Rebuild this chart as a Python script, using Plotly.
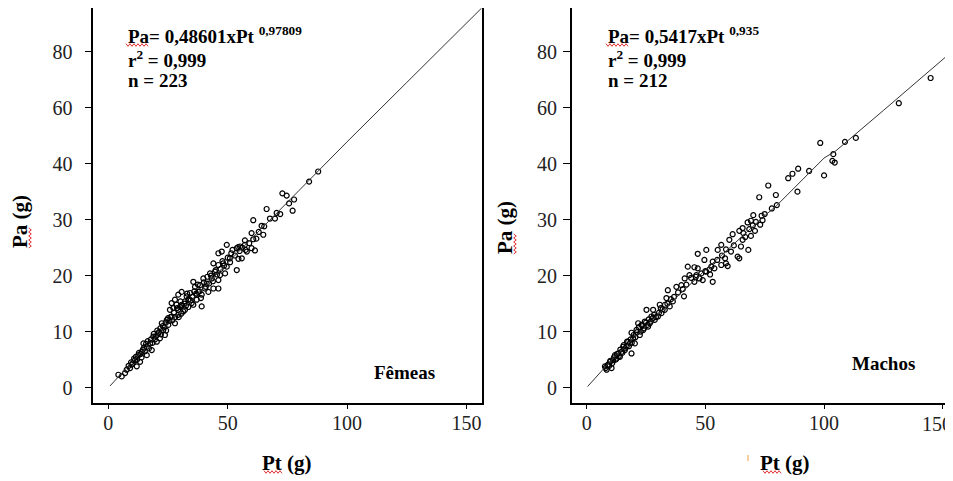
import plotly.graph_objects as go

# page body has an 8px margin: figure is drawn at (8, 8)
OFF = 8
W, H = 953 - OFF, 481 - OFF

# ---------------- data ----------------
fem_pt = [87.9, 84.1, 72.9, 74.7, 77.8, 75.7, 77.2, 66.3, 67.7, 69.8, 60.7, 64.2, 65.3, 64.9, 60.0,
          60.7, 57.2, 49.6, 54.4, 60.0, 61.4, 52.0, 55.0, 58.0, 57.2, 55.2, 53.8, 47.5, 46.1, 55.9,
          50.9, 48.1, 46.1, 44.0, 49.6, 53.8, 44.7, 42.6, 43.3, 46.8, 48.9, 46.1, 39.8, 41.2, 38.4,
          40.5, 35.6, 36.3, 44.0, 46.1, 41.9, 37.7, 39.1, 34.2, 32.8, 30.7, 29.3, 32.1, 27.9, 26.5,
          28.6, 30.0, 27.2, 25.8, 29.3, 31.4, 33.5, 34.9, 37.0, 35.6, 39.1, 37.0, 33.5, 30.7, 32.1,
          29.3, 26.5, 24.5, 22.4, 25.1, 27.9, 23.0, 20.9, 18.8, 21.6, 23.7, 20.3, 17.5, 16.1, 14.7,
          18.2, 14.0, 12.6, 16.1, 11.2, 13.3, 9.8, 9.1, 11.9, 7.7, 7.0, 5.6, 4.2,
          8.5, 9.5, 10.2, 10.8, 11.5, 12.0, 12.8, 13.5, 13.9, 14.5, 15.0, 15.3, 15.8, 16.5, 17.0,
          17.8, 18.5, 19.0, 19.5, 20.0, 20.5, 21.2, 21.8, 22.0, 22.8, 23.5, 24.0, 24.2, 25.0, 25.5,
          26.0, 26.8, 27.5, 28.0, 28.8, 29.5, 30.2, 30.5, 31.0, 31.8, 32.5, 33.0, 33.8, 34.5, 35.2,
          36.0, 36.8, 37.5, 38.2, 38.8, 40.0, 40.8, 41.5, 42.2, 43.0, 43.8, 45.0, 45.5, 47.0, 47.8,
          48.5, 50.0, 51.0, 51.5, 53.0, 54.5, 56.0, 57.5, 59.0, 62.0, 63.0, 70.5, 72.0]
fem_pa = [38.6, 36.8, 34.7, 34.3, 33.6, 32.9, 31.6, 31.9, 30.2, 30.2, 29.9, 28.9, 28.8, 27.3, 27.6,
          26.5, 26.3, 25.5, 25.1, 24.9, 24.5, 24.6, 24.4, 24.3, 25.5, 25.2, 24.9, 24.3, 24.0, 23.1,
          23.1, 22.2, 21.9, 22.2, 21.6, 21.0, 20.7, 20.4, 19.5, 20.1, 20.4, 19.2, 19.5, 18.6, 18.3,
          17.7, 18.9, 18.0, 17.7, 17.7, 17.1, 17.1, 16.6, 16.9, 16.3, 17.1, 16.6, 15.4, 15.7, 15.1,
          14.8, 14.4, 14.2, 13.9, 13.9, 13.6, 14.4, 15.1, 15.7, 14.8, 14.5, 16.6, 15.7, 14.8, 13.9,
          13.0, 12.7, 12.1, 11.5, 11.2, 11.5, 10.3, 9.7, 9.1, 8.8, 9.4, 8.2, 7.9, 7.3, 7.9,
          6.7, 6.4, 5.8, 5.8, 4.9, 4.6, 4.1, 3.5, 3.8, 3.2, 2.6, 2.0, 2.3,
          3.9, 4.5, 4.3, 5.2, 5.5, 5.0, 6.2, 6.0, 5.4, 6.8, 7.2, 6.5, 7.8, 8.3, 7.0,
          8.6, 8.0, 9.6, 8.6, 9.2, 10.2, 9.9, 10.6, 9.5, 11.0, 10.8, 11.6, 10.2, 12.4, 11.9,
          12.6, 12.0, 13.4, 12.6, 14.2, 12.6, 15.4, 13.2, 14.6, 15.0, 14.6, 16.8, 15.8, 15.6, 16.2,
          17.2, 16.8, 18.4, 17.2, 16.0, 18.8, 18.0, 19.8, 18.6, 20.0, 19.0, 21.0, 20.2, 21.2, 22.6,
          21.8, 23.2, 22.4, 24.0, 23.6, 23.0, 25.0, 24.6, 25.8, 26.6, 27.8, 31.2, 31.0]

mac_pt = [144.9, 131.5, 113.4, 108.8, 98.4, 103.9, 103.5, 104.5, 100.0, 93.7, 89.1, 86.7, 84.9, 88.8,
          76.5, 79.7, 80.1, 72.7, 70.2, 73.7, 69.2, 71.3, 73.1, 74.1, 70.9, 68.5, 69.2, 66.8, 67.8,
          65.7, 65.7, 64.3, 61.5, 60.1, 65.0, 68.1, 63.6, 64.3, 60.8, 58.7, 58.3, 56.7, 55.2, 53.1,
          52.5, 53.8, 56.7, 58.7, 59.4, 50.4, 46.8, 49.6, 51.7, 50.4, 48.3, 46.8, 45.4, 42.6, 46.2,
          47.5, 48.9, 53.1, 45.4, 43.3, 41.3, 39.9, 37.8, 41.0, 34.2, 33.6, 36.3, 35.0, 32.9, 30.8,
          28.0, 25.2, 31.5, 30.0, 28.7, 26.6, 27.3, 24.5, 23.1, 21.7, 25.9, 23.8, 21.0, 18.9, 22.4,
          19.6, 17.5, 16.8, 18.2, 16.1, 14.7, 13.3, 11.9, 12.6, 11.2, 9.8, 9.1, 7.7, 8.4, 10.5,
          14.0, 15.4, 20.3, 18.9,
          8.0, 8.8, 9.5, 10.0, 10.8, 11.5, 12.2, 12.8, 13.5, 14.2, 15.0, 15.6, 16.2, 17.0, 17.8,
          18.5, 19.0, 19.8, 20.5, 21.2, 22.0, 22.8, 23.5, 24.2, 25.0, 25.6, 26.2, 27.0, 27.8, 28.4,
          29.2, 30.5, 31.2, 32.0, 33.0, 34.0, 35.5, 36.8, 38.5, 40.5, 42.0, 44.0, 46.0, 50.0, 52.0,
          55.0, 57.0, 62.0, 66.0, 70.0, 75.0, 78.0]
mac_pa = [55.3, 50.8, 44.6, 43.9, 43.7, 41.7, 40.5, 40.2, 37.9, 38.7, 39.1, 38.2, 37.4, 35.0,
          36.1, 34.4, 32.6, 34.0, 30.8, 30.7, 29.8, 29.6, 29.1, 29.9, 28.0, 28.3, 27.1, 26.9, 29.5,
          28.5, 26.4, 28.0, 27.4, 26.4, 25.2, 24.6, 23.4, 23.1, 24.3, 24.7, 23.1, 25.5, 24.6, 22.5,
          21.6, 21.3, 21.9, 22.2, 21.7, 24.6, 23.9, 22.8, 21.1, 20.7, 20.4, 21.3, 21.5, 21.6, 20.1,
          19.5, 19.2, 18.9, 18.9, 20.1, 19.5, 18.3, 18.0, 16.3, 17.4, 16.0, 15.4, 14.5, 13.9, 14.8,
          13.9, 13.9, 13.3, 12.7, 12.1, 11.5, 12.7, 11.8, 11.2, 11.5, 10.9, 10.3, 10.3, 9.8, 9.4,
          8.8, 8.2, 7.3, 7.9, 6.7, 6.4, 6.1, 5.8, 5.2, 4.9, 4.6, 4.1, 3.8, 3.2, 3.5,
          5.5, 7.3, 7.9, 6.1,
          3.5, 4.0, 3.9, 4.8, 4.4, 5.4, 5.0, 6.0, 5.6, 6.8, 6.2, 7.6, 7.0, 8.2, 7.4,
          8.6, 8.0, 9.4, 9.0, 9.9, 10.8, 10.0, 11.0, 10.6, 11.6, 11.2, 12.2, 11.8, 12.4, 13.0,
          12.6, 13.4, 14.2, 14.0, 14.8, 15.0, 15.8, 16.2, 17.0, 17.6, 18.4, 19.6, 19.8, 20.8, 20.2,
          22.8, 23.6, 25.4, 27.6, 29.0, 31.0, 32.0]

# fitted curves
fem_fit_pt = [0.7, 10, 25, 50, 75, 100, 125, 156.4]
fem_fit_pa = [0.3, 4.6, 11.3, 22.3, 33.1, 43.9, 54.5, 67.8]
mac_fit_pt = [0.4, 10, 25, 50, 75, 80, 100, 105, 125, 153]
mac_fit_pa = [0.2, 4.7, 11.0, 21.0, 30.7, 32.5, 41.0, 42.3, 49.5, 59.7]

x_tickvals = [0, 50, 100, 150]
x_ticktext = ["0", "50", "100", "150"]
y_tickvals = [0, 10, 20, 30, 40, 50, 60]
y_ticktext = ["0", "10", "20", "30", "40", "60", "80"]

# ---------------- figure ----------------
def px(x):
    return (x - OFF) / W

def py(y):
    return 1 - (y - OFF) / H

SERIF = "Liberation Serif"
marker = dict(symbol="circle-open", size=5, color="black", line=dict(width=1.2, color="black"))

fig = go.Figure()
fig.add_trace(go.Scatter(x=fem_pt, y=fem_pa, mode="markers", marker=marker,
                         xaxis="x", yaxis="y", showlegend=False, hoverinfo="skip"))
fig.add_trace(go.Scatter(x=fem_fit_pt, y=fem_fit_pa, mode="lines",
                         line=dict(color="#333333", width=1), xaxis="x", yaxis="y",
                         showlegend=False, hoverinfo="skip"))
fig.add_trace(go.Scatter(x=mac_pt, y=mac_pa, mode="markers", marker=marker,
                         xaxis="x2", yaxis="y2", showlegend=False, hoverinfo="skip"))
fig.add_trace(go.Scatter(x=mac_fit_pt, y=mac_fit_pa, mode="lines",
                         line=dict(color="#333333", width=1), xaxis="x2", yaxis="y2",
                         showlegend=False, hoverinfo="skip"))

TICKFONT = dict(family=SERIF, size=20, color="#222222")
axis_common = dict(showline=True, linecolor="black", linewidth=1.5, mirror=True,
                   ticks="outside", tickcolor="black", tickwidth=1,
                   showgrid=False, zeroline=False, automargin=False,
                   tickfont=TICKFONT)

# right panel: the last x label sits at the page edge, drawn as right-aligned text
x2_ticktext = x_ticktext[:-1] + [""]

ydom = [py(403.3), py(8)]
fig.update_layout(
    template="none",
    width=W, height=H, margin=dict(l=0, r=0, t=0, b=0, autoexpand=False),
    paper_bgcolor="white", plot_bgcolor="white",
    xaxis=dict(axis_common, domain=[px(93.3), px(481.7)], range=[-6.3, 156.4],
               tickvals=x_tickvals, ticktext=x_ticktext, ticklen=4, ticklabelstandoff=-3,
               anchor="y"),
    yaxis=dict(axis_common, domain=ydom, range=[-2.8, 67.8],
               tickvals=y_tickvals, ticktext=y_ticktext, ticklen=7, ticklabelstandoff=8,
               anchor="x"),
    xaxis2=dict(axis_common, domain=[px(571.7), px(952)], range=[-6.3, 153.9],
                tickvals=x_tickvals, ticktext=x2_ticktext, ticklen=4, ticklabelstandoff=-3,
                anchor="y2"),
    yaxis2=dict(axis_common, domain=ydom, range=[-2.8, 67.8],
                tickvals=y_tickvals, ticktext=y_ticktext, ticklen=7, ticklabelstandoff=2,
                anchor="x2"),
)

bold = dict(family=SERIF, size=19, color="black")
ann = []
for x0, eq, n in [(126, "0,48601xPt <sup>0,97809</sup>", "223"), (606, "0,5417xPt <sup>0,935</sup>", "212")]:
    ann.append(dict(x=px(x0), y=py(35), xref="paper", yref="paper", xanchor="left", yanchor="middle",
                    text="<b>Pa= " + eq + "</b>", showarrow=False, font=bold))
    ann.append(dict(x=px(x0), y=py(59), xref="paper", yref="paper", xanchor="left", yanchor="middle",
                    text="<b>r<sup>2</sup> = 0,999</b>", showarrow=False, font=bold))
    ann.append(dict(x=px(x0), y=py(81), xref="paper", yref="paper", xanchor="left", yanchor="middle",
                    text="<b>n = " + n + "</b>", showarrow=False, font=bold))

ann.append(dict(x=1.0, y=py(424), xref="paper", yref="paper", text=x_ticktext[-1],
                xanchor="right", yanchor="middle", xshift=1,
                showarrow=False, font=TICKFONT))
ann.append(dict(x=px(404), y=py(372), xref="paper", yref="paper", text="<b>Fêmeas</b>",
                xanchor="center", yanchor="middle",
                showarrow=False, font=dict(family=SERIF, size=19, color="black")))
ann.append(dict(x=px(883), y=py(363), xref="paper", yref="paper", text="<b>Machos</b>",
                xanchor="center", yanchor="middle",
                showarrow=False, font=dict(family=SERIF, size=19, color="black")))
for xc in (287, 785):
    ann.append(dict(x=px(xc), y=py(463), xref="paper", yref="paper", text="<b>Pt (g)</b>",
                    xanchor="center", yanchor="middle",
                    showarrow=False, font=dict(family=SERIF, size=21, color="black")))
for xc, yc in ((20, 222), (505, 228)):
    ann.append(dict(x=px(xc), y=py(yc), xref="paper", yref="paper", text="<b>Pa (g)</b>",
                    xanchor="center", yanchor="middle",
                    textangle=-90, showarrow=False, font=dict(family=SERIF, size=21, color="black")))
fig.update_layout(annotations=ann)

# red spell-check squiggles under "Pa"/"Pt" (as in the source document)
def squiggle_h(x0, x1, y, amp=1.3, step=2.0):
    pts = []
    x, k = x0, 0
    while x <= x1:
        pts.append((x, y + (amp if k % 2 else -amp)))
        x += step
        k += 1
    return "M " + " L ".join(f"{px(a):.5f},{py(b):.5f}" for a, b in pts)

def squiggle_v(x, y0, y1, amp=1.3, step=2.0):
    pts = []
    y, k = y0, 0
    while y <= y1:
        pts.append((x + (amp if k % 2 else -amp), y))
        y += step
        k += 1
    return "M " + " L ".join(f"{px(a):.5f},{py(b):.5f}" for a, b in pts)

red = dict(color="#e03030", width=1)
shapes = [
    dict(type="path", xref="paper", yref="paper", path=squiggle_h(126, 148, 45), line=red),
    dict(type="path", xref="paper", yref="paper", path=squiggle_h(606, 628, 45), line=red),
    dict(type="path", xref="paper", yref="paper", path=squiggle_h(264, 283, 472), line=red),
    dict(type="path", xref="paper", yref="paper", path=squiggle_h(763, 781, 472), line=red),
    dict(type="path", xref="paper", yref="paper", path=squiggle_v(30, 228, 248), line=red),
    dict(type="path", xref="paper", yref="paper", path=squiggle_v(515, 234, 254), line=red),
    dict(type="line", xref="paper", yref="paper", x0=px(748), x1=px(748), y0=py(455), y1=py(461),
         line=dict(color="#f0a040", width=1)),
]
fig.update_layout(shapes=shapes)

fig.write_html("out.html")
